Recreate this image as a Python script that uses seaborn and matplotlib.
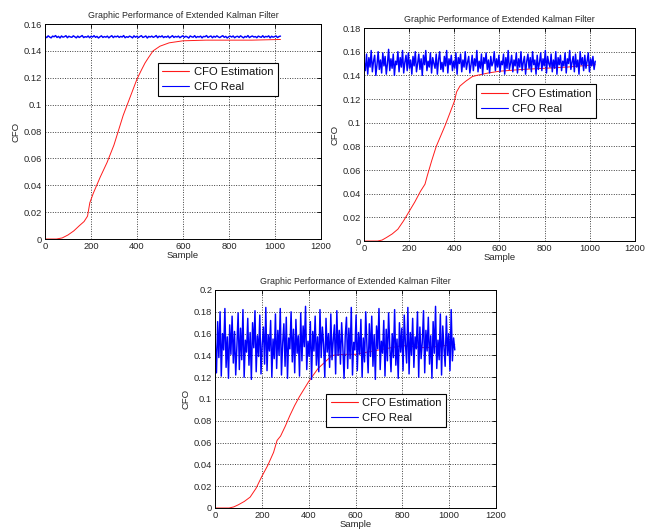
import numpy as np
import pandas as pd
import matplotlib
matplotlib.use("Agg")
import matplotlib.pyplot as plt
from matplotlib.ticker import FuncFormatter, MultipleLocator
import seaborn as sns

# ---------------------------------------------------------------- data
title = "Graphic Performance of Extended Kalman Filter"
labels = ["CFO Estimation", "CFO Real"]

# run 1: low-noise carrier offset
est1_samples = [1, 50, 75, 100, 125, 150, 170, 185, 195, 210, 240, 270, 300, 320, 340,
                360, 380, 400, 420, 435, 450, 470, 500, 540, 600, 700, 800, 900, 1024]
est1_values = [0, 0, 0.0008, 0.003, 0.006, 0.010, 0.013, 0.017, 0.027, 0.034, 0.046,
               0.057, 0.070, 0.081, 0.092, 0.101, 0.110, 0.119, 0.126, 0.131, 0.135,
               0.140, 0.1435, 0.146, 0.1475, 0.148, 0.148, 0.148, 0.1485]
real1_values = [
    0.1507, 0.1499, 0.1512, 0.1503, 0.1497, 0.1510, 0.1505, 0.1514, 0.1500, 0.1508,
    0.1496, 0.1511, 0.1502, 0.1506, 0.1513, 0.1498, 0.1509, 0.1504, 0.1501, 0.1512,
    0.1505, 0.1497, 0.1510, 0.1500, 0.1507, 0.1514, 0.1499, 0.1506, 0.1502, 0.1511,
    0.1498, 0.1509, 0.1503, 0.1513, 0.1501, 0.1508, 0.1496, 0.1505, 0.1512, 0.1500,
    0.1507, 0.1502, 0.1510, 0.1497, 0.1506, 0.1513, 0.1499, 0.1509, 0.1504, 0.1511,
    0.1500, 0.1508, 0.1503, 0.1514, 0.1498, 0.1506, 0.1501, 0.1510, 0.1505, 0.1497,
    0.1512, 0.1502, 0.1509, 0.1499, 0.1507, 0.1513, 0.1500, 0.1505, 0.1511, 0.1496,
    0.1508, 0.1503, 0.1510, 0.1501, 0.1506, 0.1514, 0.1498, 0.1509, 0.1504, 0.1512,
    0.1499, 0.1507, 0.1502, 0.1511, 0.1497, 0.1505, 0.1513, 0.1500, 0.1508, 0.1503,
    0.1510, 0.1498, 0.1506, 0.1512, 0.1501, 0.1509, 0.1504, 0.1496, 0.1511, 0.1505,
    0.1502, 0.1513, 0.1499, 0.1507, 0.1503, 0.1510, 0.1497, 0.1508, 0.1505, 0.1514,
    0.1500, 0.1506, 0.1511, 0.1498, 0.1509, 0.1502, 0.1512, 0.1504, 0.1499, 0.1507,
    0.1513, 0.1501, 0.1508, 0.1496, 0.1505, 0.1510, 0.1503, 0.1511, 0.1498, 0.1506,
    0.1509, 0.1500, 0.1512, 0.1504, 0.1497, 0.1508, 0.1502, 0.1514, 0.1499, 0.1506,
    0.1511, 0.1503, 0.1507, 0.1498, 0.1510, 0.1505, 0.1501, 0.1513, 0.1500, 0.1508,
    0.1504, 0.1512, 0.1497, 0.1509, 0.1502, 0.1506, 0.1511, 0.1499, 0.1507, 0.1510,
]

# run 2: moderate noise
est2_samples = [1, 60, 80, 100, 125, 150, 175, 200, 225, 250, 270, 280, 300, 320, 340,
                360, 380, 400, 410, 425, 450, 480, 500, 550, 600, 700, 800, 900, 1024]
est2_values = [0, 0, 0.0008, 0.003, 0.006, 0.010, 0.017, 0.025, 0.033, 0.042, 0.048,
               0.055, 0.068, 0.080, 0.089, 0.098, 0.108, 0.118, 0.126, 0.131, 0.135,
               0.139, 0.140, 0.142, 0.1435, 0.145, 0.146, 0.147, 0.149]
real2_values = [
    0.151, 0.144, 0.158, 0.141, 0.155, 0.147, 0.161, 0.143, 0.152, 0.157, 0.140, 0.149, 0.160, 0.145, 0.153, 0.142, 0.159, 0.148, 0.156, 0.141,
    0.150, 0.162, 0.144, 0.154, 0.146, 0.158, 0.140, 0.152, 0.149, 0.160, 0.143, 0.155, 0.147, 0.161, 0.142, 0.151, 0.157, 0.144, 0.159, 0.146,
    0.153, 0.141, 0.156, 0.148, 0.160, 0.143, 0.150, 0.158, 0.145, 0.154, 0.140, 0.157, 0.149, 0.161, 0.144, 0.152, 0.147, 0.159, 0.142, 0.155,
    0.150, 0.146, 0.158, 0.141, 0.153, 0.160, 0.145, 0.151, 0.143, 0.156, 0.148, 0.161, 0.142, 0.154, 0.149, 0.157, 0.144, 0.152, 0.146, 0.159,
    0.141, 0.155, 0.150, 0.158, 0.143, 0.153, 0.147, 0.160, 0.145, 0.151, 0.156, 0.142, 0.149, 0.157, 0.144, 0.154, 0.148, 0.161, 0.143, 0.152,
    0.146, 0.158, 0.141, 0.155, 0.150, 0.159, 0.145, 0.153, 0.142, 0.156, 0.148, 0.151, 0.160, 0.144, 0.154, 0.147, 0.157, 0.143, 0.152, 0.149,
    0.158, 0.141, 0.155, 0.146, 0.161, 0.145, 0.150, 0.157, 0.143, 0.153, 0.148, 0.159, 0.142, 0.154, 0.147, 0.160, 0.144, 0.151, 0.156, 0.141,
    0.152, 0.158, 0.146, 0.155, 0.143, 0.160, 0.149, 0.153, 0.141, 0.157, 0.145, 0.151, 0.159, 0.144, 0.154, 0.148, 0.161, 0.142, 0.156, 0.150,
    0.147, 0.158, 0.143, 0.153, 0.146, 0.160, 0.141, 0.155, 0.149, 0.157, 0.144, 0.152, 0.148, 0.159, 0.142, 0.154, 0.150, 0.161, 0.145, 0.151,
    0.156, 0.143, 0.158, 0.147, 0.153, 0.141, 0.160, 0.149, 0.155, 0.144, 0.157, 0.146, 0.152, 0.159, 0.143, 0.154, 0.148, 0.156, 0.145, 0.152,
]

# run 3: heavy noise
est3_samples = [1, 60, 80, 100, 125, 150, 175, 200, 225, 250, 265, 280, 300, 320, 340,
                360, 380, 400, 420, 440, 470, 500, 550, 600, 700, 800, 900, 1024]
est3_values = [0, 0, 0.001, 0.003, 0.006, 0.010, 0.018, 0.029, 0.039, 0.051, 0.062,
               0.066, 0.075, 0.085, 0.094, 0.102, 0.109, 0.116, 0.122, 0.128, 0.134,
               0.140, 0.141, 0.141, 0.145, 0.149, 0.147, 0.150]
real3_values = [
    0.152, 0.124, 0.171, 0.138, 0.180, 0.121, 0.160, 0.145, 0.183, 0.129,
    0.157, 0.119, 0.168, 0.141, 0.176, 0.133, 0.162, 0.122, 0.149, 0.179,
    0.127, 0.165, 0.136, 0.182, 0.120, 0.154, 0.143, 0.174, 0.131, 0.161,
    0.118, 0.170, 0.147, 0.181, 0.125, 0.158, 0.139, 0.177, 0.123, 0.150,
    0.166, 0.132, 0.184, 0.126, 0.159, 0.144, 0.172, 0.120, 0.155, 0.137,
    0.178, 0.128, 0.163, 0.140, 0.183, 0.122, 0.151, 0.169, 0.130, 0.175,
    0.119, 0.156, 0.146, 0.180, 0.134, 0.164, 0.124, 0.173, 0.142, 0.158,
    0.121, 0.179, 0.135, 0.167, 0.148, 0.185, 0.127, 0.153, 0.139, 0.171,
    0.118, 0.162, 0.144, 0.176, 0.131, 0.157, 0.125, 0.182, 0.138, 0.166,
    0.150, 0.120, 0.174, 0.143, 0.160, 0.129, 0.178, 0.136, 0.154, 0.168,
    0.123, 0.181, 0.140, 0.163, 0.132, 0.170, 0.147, 0.119, 0.158, 0.175,
    0.128, 0.165, 0.137, 0.184, 0.122, 0.152, 0.145, 0.177, 0.126, 0.161,
    0.141, 0.173, 0.120, 0.156, 0.134, 0.180, 0.149, 0.124, 0.169, 0.139,
    0.176, 0.130, 0.159, 0.118, 0.167, 0.146, 0.183, 0.127, 0.153, 0.142,
    0.172, 0.121, 0.164, 0.135, 0.179, 0.148, 0.125, 0.160, 0.138, 0.182,
    0.131, 0.155, 0.119, 0.170, 0.143, 0.165, 0.126, 0.177, 0.150, 0.133,
    0.184, 0.123, 0.161, 0.140, 0.174, 0.129, 0.157, 0.146, 0.180, 0.120,
    0.166, 0.137, 0.152, 0.181, 0.124, 0.163, 0.144, 0.175, 0.132, 0.158,
    0.119, 0.171, 0.142, 0.185, 0.128, 0.154, 0.136, 0.178, 0.122, 0.167,
    0.147, 0.130, 0.176, 0.140, 0.160, 0.126, 0.182, 0.135, 0.156, 0.145,
]

y_tops = [0.16, 0.18, 0.2]

# ---------------------------------------------------------------- style
sns.set_style("white")
plt.rcParams["font.family"] = ["Liberation Sans", "DejaVu Sans"]
text_color = "#262626"
red = "#ff1a1a"
blue = "#0000ff"

fig = plt.figure(figsize=(6.5, 5.29), dpi=100)

panels = [
    # axes rect, estimation, real, y max, legend anchor
    ([0.0692, 0.5482, 0.4246, 0.4064], (est1_samples, est1_values), real1_values, y_tops[0], (0.408, 0.82)),
    ([0.5600, 0.5444, 0.4169, 0.4026], (est2_samples, est2_values), real2_values, y_tops[1], (0.415, 0.735)),
    ([0.3308, 0.0397, 0.4323, 0.4121], (est3_samples, est3_values), real3_values, y_tops[2], (0.395, 0.525)),
]

fmt = FuncFormatter(lambda v, p: f"{v:g}")

for rect, (es, ev), real, ymax, anchor in panels:
    ax = fig.add_axes(rect)
    est_df = pd.DataFrame({"Sample": es, "CFO": ev})
    real_df = pd.DataFrame({"Sample": np.linspace(1, 1024, len(real)), "CFO": real})
    sns.lineplot(data=est_df, x="Sample", y="CFO", ax=ax, color=red,
                 lw=0.7, estimator=None, sort=False, legend=False)
    sns.lineplot(data=real_df, x="Sample", y="CFO", ax=ax, color=blue,
                 lw=1.05, estimator=None, sort=False, legend=False)
    est_line, real_line = ax.lines[0], ax.lines[1]

    ax.set_xlim(0, 1200)
    ax.set_ylim(0, ymax)
    ax.xaxis.set_major_locator(MultipleLocator(200))
    ax.yaxis.set_major_locator(MultipleLocator(0.02))
    ax.xaxis.set_major_formatter(fmt)
    ax.yaxis.set_major_formatter(fmt)
    ax.tick_params(direction="in", length=3, width=0.6, top=True, right=True,
                   labelsize=6.7, colors="k", labelcolor=text_color, pad=2)
    ax.grid(True, color="k", linestyle=(0, (1.2, 2.0)), lw=0.55)
    for s in ax.spines.values():
        s.set_color("k")
        s.set_linewidth(0.7)
    ax.set_title(title, fontsize=6.4, color=text_color, pad=4)
    ax.set_xlabel("Sample", fontsize=6.8, color=text_color, labelpad=0)
    ax.set_ylabel("CFO", fontsize=6.8, color=text_color, labelpad=2.5)

    leg = ax.legend([est_line, real_line], labels, loc="upper left", bbox_to_anchor=anchor,
                    frameon=True, fancybox=False, edgecolor="k", framealpha=1,
                    fontsize=8.1, handlelength=2.4, borderpad=0.4,
                    labelspacing=0.42, handletextpad=0.4, borderaxespad=0)
    leg.get_frame().set_linewidth(0.8)
    for line in leg.get_lines():
        line.set_linewidth(0.8)
    for t in leg.get_texts():
        t.set_color("#111111")

fig.savefig("out.png", dpi=100, facecolor="white")
